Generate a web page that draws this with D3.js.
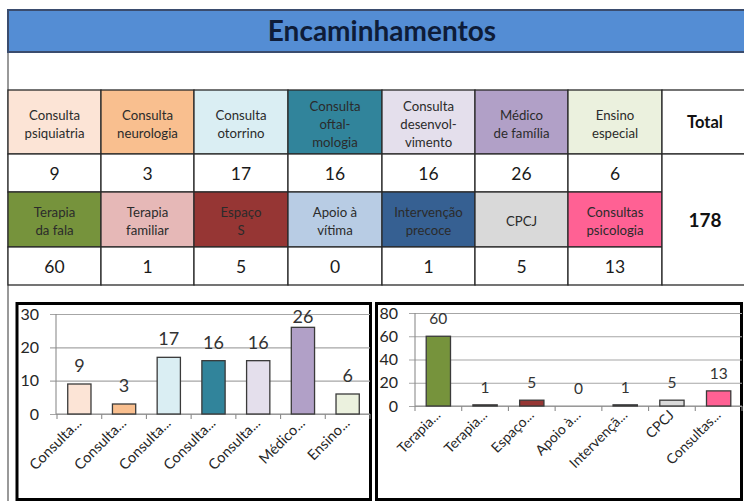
<!DOCTYPE html>
<html><head><meta charset="utf-8">
<script src="https://cdn.jsdelivr.net/npm/d3@7"></script>
<style>
body{margin:0;background:#fff;overflow:hidden}
svg{display:block}
text{font-family:Lato,"Noto Sans",sans-serif}
</style>
</head><body>
<svg id="c" width="744" height="501"></svg>
<script>
// ---------------- data ----------------
const title = "Encaminhamentos";
const headers1 = [["Consulta","psiquiatria"],["Consulta","neurologia"],["Consulta","otorrino"],["Consulta","oftal-","mologia"],["Consulta","desenvol-","vimento"],["Médico","de família"],["Ensino","especial"]];
const values1 = [9,3,17,16,16,26,6];
const axisLabels1 = ["Consulta...","Consulta...","Consulta...","Consulta...","Consulta...","Médico...","Ensino..."];
const colors1 = ["#FCE4D6","#F9BF8F","#DAEEF3","#31849B","#E4DFEC","#B1A0C7","#EBF1DE"];

const headers2 = [["Terapia","da fala"],["Terapia","familiar"],["Espaço","S"],["Apoio à","vítima"],["Intervenção","precoce"],["CPCJ"],["Consultas","psicologia"]];
const values2 = [60,1,5,0,1,5,13];
const axisLabels2 = ["Terapia...","Terapia...","Espaço...","Apoio à...","Intervençã...","CPCJ","Consultas..."];
const colors2 = ["#76933C","#E6B8B7","#963634","#B8CCE4","#366092","#D9D9D9","#FF6194"];

const yTicks1 = [0,10,20,30];
const yTicks2 = [0,20,40,60,80];
const totalLabel = "Total";
const total = d3.sum(values1) + d3.sum(values2);

// ---------------- layout ----------------
const svg = d3.select("#c");
const colX = [8,101,194,288,382,475,568,662,760];
const R = {title:[10,52], h1:[90,154], v1:[154,192], h2:[192,247], v2:[247,285]};
const border = "#2a2a2a";

// outer left border continuing down
svg.append("line").attr("x1",8).attr("x2",8).attr("y1",52).attr("y2",501).attr("stroke","#555").attr("stroke-width",1.2);

// title band
svg.append("rect").attr("x",8).attr("y",R.title[0]).attr("width",colX[8]-8).attr("height",R.title[1]-R.title[0])
  .attr("fill","#548DD4").attr("stroke","#3A4C6E").attr("stroke-width",2);
svg.append("text").attr("x",382).attr("y",41).attr("text-anchor","middle")
  .attr("font-size",28).attr("font-weight","bold").attr("fill","#0E1C38").text(title);

function headerRow(headers, colors, rows){
  headers.forEach((lines,i)=>{
    const x0=colX[i], x1=colX[i+1], y0=rows[0], y1=rows[1];
    svg.append("rect").attr("x",x0).attr("y",y0).attr("width",x1-x0).attr("height",y1-y0)
      .attr("fill",colors[i]).attr("stroke",border).attr("stroke-width",1.3);
    const cy=(y0+y1)/2+2, lh=18;
    const t=svg.append("text").attr("text-anchor","middle").attr("font-size",13.2).attr("fill","#2b2b2b");
    lines.forEach((l,k)=>{
      t.append("tspan").attr("x",(x0+x1)/2).attr("y",cy+(k-(lines.length-1)/2)*lh+4.5).text(l);
    });
  });
}
function valueRow(values, rows){
  values.forEach((v,i)=>{
    const x0=colX[i], x1=colX[i+1], y0=rows[0], y1=rows[1];
    svg.append("rect").attr("x",x0).attr("y",y0).attr("width",x1-x0).attr("height",y1-y0)
      .attr("fill","#fff").attr("stroke",border).attr("stroke-width",1.3);
    svg.append("text").attr("x",(x0+x1)/2).attr("y",(y0+y1)/2+6.5).attr("text-anchor","middle")
      .attr("font-size",17.5).attr("fill","#1a1a1a").text(v);
  });
}
headerRow(headers1, colors1, R.h1);
valueRow(values1, R.v1);
headerRow(headers2, colors2, R.h2);
valueRow(values2, R.v2);

// total column
svg.append("rect").attr("x",colX[7]).attr("y",R.h1[0]).attr("width",colX[8]-colX[7]).attr("height",R.h1[1]-R.h1[0])
  .attr("fill","#fff").attr("stroke",border).attr("stroke-width",1.3);
svg.append("text").attr("x",705).attr("y",(R.h1[0]+R.h1[1])/2+6).attr("text-anchor","middle")
  .attr("font-size",16.5).attr("font-weight","bold").attr("fill","#111").text(totalLabel);
svg.append("rect").attr("x",colX[7]).attr("y",R.v1[0]).attr("width",colX[8]-colX[7]).attr("height",R.v2[1]-R.v1[0])
  .attr("fill","#fff").attr("stroke",border).attr("stroke-width",1.3);
svg.append("text").attr("x",705).attr("y",(R.v1[0]+R.v2[1])/2+7).attr("text-anchor","middle")
  .attr("font-size",19).attr("font-weight","bold").attr("fill","#111").text(total);

// ---------------- charts ----------------
function chart(opt){
  const {box, xr, yr, axisX, gridX, yTicks, values, labels, colors, labelSize, dataSize, tickSize} = opt;
  const g = svg.append("g");
  g.append("rect").attr("x",box[0]).attr("y",box[1]).attr("width",box[2]-box[0]).attr("height",box[3]-box[1])
    .attr("fill","#fff").attr("stroke","#000").attr("stroke-width",3);

  const x = d3.scaleBand().domain(d3.range(values.length)).range(xr).paddingInner(0.48).paddingOuter(0.24);
  const y = d3.scaleLinear().domain([0, yTicks[yTicks.length-1]]).range(yr);

  // gridlines + y tick labels
  const ya = d3.axisLeft(y).tickValues(yTicks).tickSize(-(xr[1]-gridX)).tickPadding(11).tickFormat(d3.format("d"));
  const yg = g.append("g").attr("transform",`translate(${gridX},0)`).call(ya);
  yg.select(".domain").remove();
  yg.selectAll(".tick line").attr("stroke","#A6A6A6").attr("stroke-width",1.1);
  yg.selectAll(".tick text").attr("font-size",tickSize).attr("fill","#262626").attr("font-family","Lato,'Noto Sans',sans-serif");
  // vertical axis line
  g.append("line").attr("x1",axisX).attr("x2",axisX).attr("y1",yr[1]).attr("y2",yr[0]).attr("stroke","#8C8C8C").attr("stroke-width",1.1);
  // x axis line
  g.append("line").attr("x1",axisX).attr("x2",xr[1]).attr("y1",yr[0]).attr("y2",yr[0]).attr("stroke","#8C8C8C").attr("stroke-width",1.2);
  // category boundary ticks
  const step = x.step();
  d3.range(values.length+1).forEach(i=>{
    const xx = xr[0] + i*step;
    g.append("line").attr("x1",xx).attr("x2",xx).attr("y1",yr[0]).attr("y2",yr[0]+5).attr("stroke","#8C8C8C").attr("stroke-width",1.1);
  });

  // bars
  g.selectAll("rect.bar").data(values).join("rect").attr("class","bar")
    .attr("x",(d,i)=>x(i)).attr("width",x.bandwidth())
    .attr("y",d=>y(d)).attr("height",d=>y(0)-y(d))
    .attr("fill",(d,i)=>colors[i]).attr("stroke","#3a3a3a").attr("stroke-width",1.3);

  // data labels
  g.selectAll("text.dl").data(values).join("text").attr("class","dl")
    .attr("x",(d,i)=>x(i)+x.bandwidth()/2)
    .attr("y",d=>Math.max(y(d)-12, yr[1]+9))
    .attr("text-anchor","middle").attr("font-size",dataSize).attr("fill","#333").text(d=>d);

  // category labels
  g.selectAll("text.cl").data(labels).join("text").attr("class","cl")
    .attr("transform",(d,i)=>`translate(${x(i)+x.bandwidth()/2+3},${yr[0]+10}) rotate(-45)`)
    .attr("text-anchor","end").attr("font-size",labelSize).attr("fill","#262626").text(d=>d);
}

chart({box:[17,303.5,370.5,499.5], xr:[57,370], yr:[414,314], axisX:56, gridX:50,
  yTicks:yTicks1, values:values1, labels:axisLabels1, colors:colors1, labelSize:14.5, dataSize:18, tickSize:16});
chart({box:[376.5,303.5,741.5,499.5], xr:[415,742], yr:[406,313], axisX:415, gridX:409,
  yTicks:yTicks2, values:values2, labels:axisLabels2, colors:colors2, labelSize:14, dataSize:15.5, tickSize:16});
</script>
</body></html>
